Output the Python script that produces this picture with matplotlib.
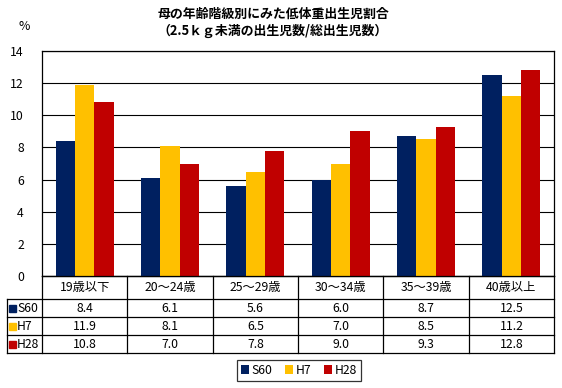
import matplotlib
matplotlib.use("Agg")
import matplotlib.pyplot as plt
from matplotlib.patches import Patch, Rectangle
import numpy as np

plt.rcParams["font.family"] = ["Noto Sans CJK JP", "DejaVu Sans"]

# ── Data ──────────────────────────────────────────────────────────────────────
categories = ["19歳以下", "20～24歳", "25～29歳", "30～34歳", "35～39歳", "40歳以上"]
series_names = ["S60", "H7", "H28"]
s60 = [8.4, 6.1, 5.6, 6.0, 8.7, 12.5]
h7 = [11.9, 8.1, 6.5, 7.0, 8.5, 11.2]
h28 = [10.8, 7.0, 7.8, 9.0, 9.3, 12.8]
yticks = [0, 2, 4, 6, 8, 10, 12, 14]

COLORS = ["#002060", "#FFC000", "#C00000"]
W, H = 562, 388
FS = 8.8

fig = plt.figure(figsize=(W / 100, H / 100), dpi=100)

def fx(px):
    return px / W

def fy(py):
    return 1 - py / H

# ── Plot area ────────────────────────────────────────────────────────────────
ax_l, ax_r, ax_t, ax_b = 42, 554, 51, 276
ax = fig.add_axes([fx(ax_l), fy(ax_b), fx(ax_r - ax_l), (ax_b - ax_t) / H])

n = len(categories)
x = np.arange(n)
bw = 0.227
for i, vals in enumerate([s60, h7, h28]):
    ax.bar(x + (i - 1) * bw, vals, width=bw, color=COLORS[i], zorder=3)

ax.set_xlim(-0.5, n - 0.5)
ax.set_ylim(0, 14)
ax.set_yticks(yticks)
ax.set_yticklabels([str(t) for t in yticks], fontsize=FS)
ax.set_xticks([])
ax.grid(axis="y", color="black", linewidth=0.8, zorder=0)
ax.tick_params(axis="y", length=0, pad=13)
for sp in ax.spines.values():
    sp.set_color("black")
    sp.set_linewidth(0.9)

fig.text(fx(24), fy(27), "%", fontsize=FS, ha="center", va="center")
fig.text(fx(273), fy(14), "母の年齢階級別にみた低体重出生児割合",
         fontsize=9.3, fontweight="bold", ha="center", va="center")
fig.text(fx(273), fy(31), "（2.5ｋｇ未満の出生児数/総出生児数）",
         fontsize=9.3, fontweight="bold", ha="center", va="center")

# ── Data table ───────────────────────────────────────────────────────────────
tab = fig.add_axes([0, 0, 1, 1])
tab.set_xlim(0, W)
tab.set_ylim(H, 0)
tab.axis("off")

col_w = (ax_r - ax_l) / n
row_y = [276, 299, 317, 335, 353]
lbl_l = 7
lw = 0.9

# horizontal lines
tab.plot([ax_l, ax_r], [row_y[0]] * 2, color="black", lw=lw)
for yy in row_y[1:]:
    tab.plot([lbl_l, ax_r], [yy] * 2, color="black", lw=lw)
# vertical lines
for j in range(n + 1):
    tab.plot([ax_l + j * col_w] * 2, [row_y[0], row_y[-1]], color="black", lw=lw)
tab.plot([lbl_l] * 2, [row_y[1], row_y[-1]], color="black", lw=lw)

for j, c in enumerate(categories):
    tab.text(ax_l + (j + 0.5) * col_w, (row_y[0] + row_y[1]) / 2, c,
             fontsize=FS, ha="center", va="center")

for i, (name, vals) in enumerate(zip(series_names, [s60, h7, h28])):
    yc = (row_y[i + 1] + row_y[i + 2]) / 2
    tab.add_patch(Rectangle((lbl_l + 2, yc - 3.5), 7, 7, color=COLORS[i]))
    tab.text(lbl_l + 10, yc, name, fontsize=FS, ha="left", va="center")
    for j, v in enumerate(vals):
        tab.text(ax_l + (j + 0.5) * col_w, yc, f"{v:.1f}",
                 fontsize=FS, ha="center", va="center")

# ── Legend ───────────────────────────────────────────────────────────────────
handles = [Patch(facecolor=c, edgecolor="none") for c in COLORS]
leg = fig.legend(handles, series_names, loc="center",
                 bbox_to_anchor=(fx(299), fy(370.5)), ncol=3, fontsize=FS,
                 frameon=True, fancybox=False, handlelength=0.7,
                 handleheight=0.7, handletextpad=0.2, columnspacing=1.0,
                 borderpad=0.3)
leg.get_frame().set_edgecolor("black")
leg.get_frame().set_linewidth(0.9)

fig.savefig("out.png", dpi=100)
